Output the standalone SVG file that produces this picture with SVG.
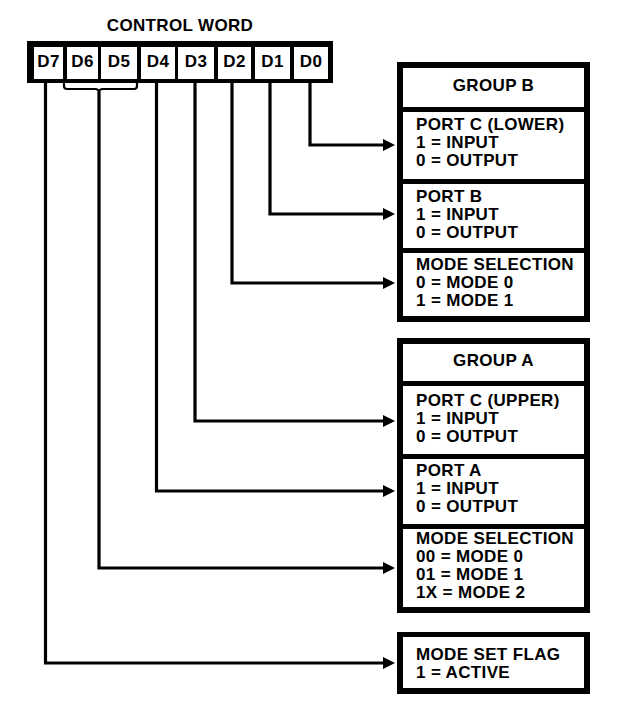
<svg xmlns="http://www.w3.org/2000/svg" width="623" height="713" viewBox="0 0 623 713">
<defs>
<style>
text{font-family:"Liberation Sans",Arial,sans-serif;font-weight:bold;font-size:17px;letter-spacing:0.35px;fill:#000}
.c{text-anchor:middle}
.frame{fill:#000}
.cell{fill:#fff}
.wire{fill:none;stroke:#000;stroke-width:3.2}
.brace{fill:none;stroke:#000;stroke-width:2.2}
</style>
<marker id="ah" markerUnits="userSpaceOnUse" markerWidth="13" markerHeight="13" refX="0" refY="6" orient="auto">
<path d="M0,0 L12,6 L0,12 z" fill="#000"/>
</marker>
</defs>
<rect width="623" height="713" fill="#fff"/>

<g id="control-word">
<text class="c" x="180" y="31">CONTROL WORD</text>
<rect class="frame" x="27" y="41" width="306" height="42"/>
<rect class="cell" x="34" y="47" width="29" height="32"/>
<rect class="cell" x="67" y="47" width="31" height="32"/>
<rect class="cell" x="101" y="47" width="36" height="32"/>
<rect class="cell" x="141" y="47" width="34" height="32"/>
<rect class="cell" x="178" y="47" width="36" height="32"/>
<rect class="cell" x="218" y="47" width="33" height="32"/>
<rect class="cell" x="255" y="47" width="35" height="32"/>
<rect class="cell" x="294" y="47" width="34" height="32"/>
<text class="c" x="48.5" y="67">D7</text>
<text class="c" x="82.5" y="67">D6</text>
<text class="c" x="119" y="67">D5</text>
<text class="c" x="158" y="67">D4</text>
<text class="c" x="196" y="67">D3</text>
<text class="c" x="234.5" y="67">D2</text>
<text class="c" x="272.5" y="67">D1</text>
<text class="c" x="311" y="67">D0</text>
</g>

<g id="group-b">
<rect class="frame" x="397" y="62" width="193" height="260"/>
<rect class="cell" x="403" y="68" width="181" height="39"/>
<rect class="cell" x="403" y="112" width="181" height="67"/>
<rect class="cell" x="403" y="184" width="181" height="64"/>
<rect class="cell" x="403" y="253" width="181" height="63"/>
<text class="c" x="493.5" y="91">GROUP B</text>
<text x="416" y="130">PORT C (LOWER)</text>
<text x="416" y="148">1 = INPUT</text>
<text x="416" y="166">0 = OUTPUT</text>
<text x="416" y="201.5">PORT B</text>
<text x="416" y="219.5">1 = INPUT</text>
<text x="416" y="237.5">0 = OUTPUT</text>
<text x="416" y="269.5">MODE SELECTION</text>
<text x="416" y="287.5">0 = MODE 0</text>
<text x="416" y="305.5">1 = MODE 1</text>
</g>

<g id="group-a">
<rect class="frame" x="397" y="338" width="193" height="275"/>
<rect class="cell" x="403" y="344" width="181" height="37"/>
<rect class="cell" x="403" y="386" width="181" height="68"/>
<rect class="cell" x="403" y="459" width="181" height="65"/>
<rect class="cell" x="403" y="529" width="181" height="78"/>
<text class="c" x="493.5" y="366">GROUP A</text>
<text x="416" y="405.5">PORT C (UPPER)</text>
<text x="416" y="423.5">1 = INPUT</text>
<text x="416" y="441.5">0 = OUTPUT</text>
<text x="416" y="476">PORT A</text>
<text x="416" y="494">1 = INPUT</text>
<text x="416" y="512">0 = OUTPUT</text>
<text x="416" y="544">MODE SELECTION</text>
<text x="416" y="562">00 = MODE 0</text>
<text x="416" y="580">01 = MODE 1</text>
<text x="416" y="598">1X = MODE 2</text>
</g>

<g id="mode-set-flag">
<rect class="frame" x="397" y="632" width="193" height="62"/>
<rect class="cell" x="403" y="637" width="181" height="51"/>
<text x="416" y="659.5">MODE SET FLAG</text>
<text x="416" y="677.5">1 = ACTIVE</text>
</g>

<g id="connectors">
<path class="wire" d="M310,83 V145 H383" marker-end="url(#ah)"/>
<path class="wire" d="M270,83 V214 H383" marker-end="url(#ah)"/>
<path class="wire" d="M232,83 V283 H383" marker-end="url(#ah)"/>
<path class="wire" d="M195,83 V421 H383" marker-end="url(#ah)"/>
<path class="wire" d="M156.5,83 V491 H383" marker-end="url(#ah)"/>
<path class="brace" d="M64,83 V86 Q64,89 67,89 H95 Q99,89 99,93 Q99,89 103,89 H134 Q137,89 137,86 V83"/>
<path class="wire" d="M99,92 V568 H383" marker-end="url(#ah)"/>
<path class="wire" d="M45.5,83 V663 H383" marker-end="url(#ah)"/>
</g>
</svg>
